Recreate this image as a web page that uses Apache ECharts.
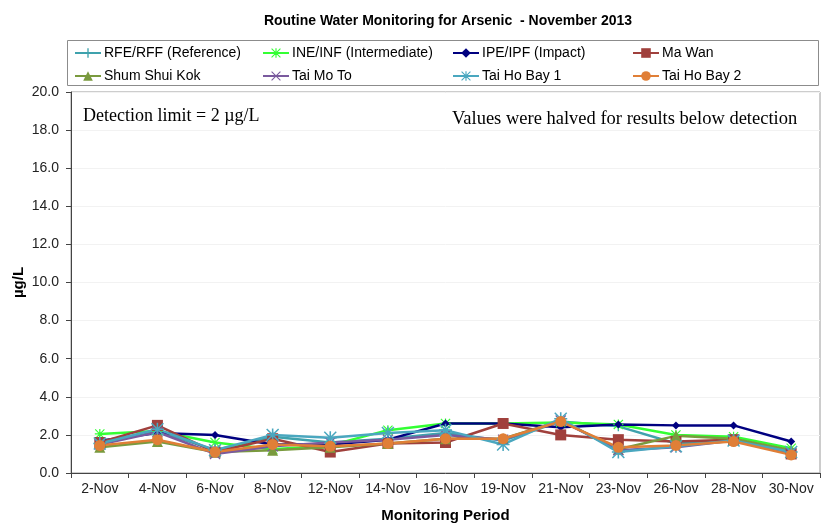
<!DOCTYPE html>
<html>
<head>
<meta charset="utf-8">
<script src="https://cdn.jsdelivr.net/npm/echarts@6/dist/echarts.min.js"></script>
<style>
  html, body { margin: 0; padding: 0; background: #fff; }
  #chart { width: 823px; height: 527px; }
</style>
</head>
<body>
<div id="chart"></div>
<script>
// Sampling dates
const categories = ['2-Nov', '4-Nov', '6-Nov', '8-Nov', '12-Nov', '14-Nov', '16-Nov',
                    '19-Nov', '21-Nov', '23-Nov', '26-Nov', '28-Nov', '30-Nov'];

// Arsenic concentration (µg/L) per station
const rfeRff      = [1.6, 2.2, 1.2, 1.9, 1.6, 1.8, 2.1, 1.7, 2.7, 2.45, 1.55, 1.7, 1.1];
const ineInf      = [2.05, 2.2, 1.6, 1.25, 1.45, 2.25, 2.6, 2.6, 2.65, 2.55, 2.0, 1.9, 1.3];
const ipeIpf      = [1.7, 2.1, 2.0, 1.5, 1.5, 1.75, 2.6, 2.6, 2.4, 2.55, 2.5, 2.5, 1.65];
const maWan       = [1.6, 2.5, 1.1, 1.8, 1.1, 1.55, 1.6, 2.6, 2.0, 1.75, 1.65, 1.75, 1.0];
const shumShuiKok = [1.35, 1.65, 1.1, 1.2, 1.35, 1.55, 1.8, 1.8, 2.75, 1.25, 1.95, 1.8, 1.2];
const taiMoTo     = [1.5, 2.15, 1.0, 1.4, 1.6, 1.75, 2.0, 1.75, 2.75, 1.2, 1.35, 1.7, 1.05];
const taiHoBay1   = [1.55, 2.3, 1.2, 2.0, 1.85, 2.1, 2.25, 1.5, 2.85, 1.1, 1.4, 1.7, 1.1];
const taiHoBay2   = [1.45, 1.75, 1.1, 1.5, 1.4, 1.55, 1.8, 1.8, 2.7, 1.35, 1.45, 1.65, 0.95];

const yTicks = { min: 0, max: 20, interval: 2 };

// Custom marker shapes
const PLUS = 'path://M4.3,0H5.7V4.3H10V5.7H5.7V10H4.3V5.7H0V4.3H4.3Z';
const STAR = 'path://M4.4,0H5.6V4.4H10V5.6H5.6V10H4.4V5.6H0V4.4H4.4Z' +
             'M0.8,0L5,4.2L9.2,0L10,0.8L5.8,5L10,9.2L9.2,10L5,5.8L0.8,10L0,9.2L4.2,5L0,0.8Z';
const CROSS = 'path://M0.8,0L5,4.2L9.2,0L10,0.8L5.8,5L10,9.2L9.2,10L5,5.8L0.8,10L0,9.2L4.2,5L0,0.8Z';

const stations = [
  { name: 'RFE/RFF (Reference)',    data: rfeRff,      color: '#3fa2ad', symbol: PLUS,       size: 10 },
  { name: 'INE/INF (Intermediate)', data: ineInf,      color: '#33ff33', symbol: STAR,       size: 10 },
  { name: 'IPE/IPF (Impact)',       data: ipeIpf,      color: '#000080', symbol: 'diamond',  size: 8 },
  { name: 'Ma Wan',                 data: maWan,       color: '#a0403c', symbol: 'rect',     size: 11 },
  { name: 'Shum Shui Kok',          data: shumShuiKok, color: '#7a9a3e', symbol: 'triangle', size: 11 },
  { name: 'Tai Mo To',              data: taiMoTo,     color: '#7a5a9e', symbol: CROSS,      size: 11 },
  { name: 'Tai Ho Bay 1',           data: taiHoBay1,   color: '#4aa7bf', symbol: STAR,       size: 13 },
  { name: 'Tai Ho Bay 2',           data: taiHoBay2,   color: '#e07f37', symbol: 'circle',   size: 11 }
];

const series = stations.map(s => ({
  name: s.name,
  type: 'line',
  data: s.data,
  symbol: s.symbol,
  symbolSize: s.size,
  showAllSymbol: true,
  lineStyle: { color: s.color, width: 2.5 },
  itemStyle: { color: s.color, borderColor: s.color, borderWidth: 0 },
  emphasis: { disabled: true },
  animation: false
}));

// Four legend columns, two entries each
const legendCols = [69, 257, 447, 627];
const legendTextStyle = { fontFamily: 'Liberation Sans, Arial, sans-serif', fontSize: 14, color: '#000', padding: [0, 0, 0, -2] };
const legends = legendCols.map((x, i) => ({
  left: x,
  top: 41,
  orient: 'vertical',
  itemGap: 9,
  itemWidth: 26,
  itemHeight: 12,
  textStyle: legendTextStyle,
  data: [stations[i].name, stations[i + 4].name],
  selectedMode: false
}));

const chart = echarts.init(document.getElementById('chart'), null, { renderer: 'canvas' });
chart.setOption({
  backgroundColor: '#ffffff',
  animation: false,
  title: {
    text: 'Routine Water Monitoring for Arsenic  - November 2013',
    left: 443,
    top: 9,
    textAlign: 'center',
    textStyle: { fontFamily: 'Liberation Sans, Arial, sans-serif', fontSize: 14, fontWeight: 'bold', color: '#000' }
  },
  legend: legends,
  graphic: [
    {
      type: 'rect',
      shape: { x: 67.5, y: 40.5, width: 751, height: 45 },
      style: { fill: 'none', stroke: '#8c8c8c', lineWidth: 1 },
      z: -1
    },
    {
      type: 'text',
      left: 83,
      top: 107,
      style: { text: 'Detection limit = 2 µg/L', font: '18px "Liberation Serif", "DejaVu Serif", serif', fill: '#000' }
    },
    {
      type: 'text',
      left: 452,
      top: 110,
      style: { text: 'Values were halved for results below detection', font: '18.5px "Liberation Serif", "DejaVu Serif", serif', fill: '#000' }
    }
  ],
  grid: {
    left: 71, right: 3, top: 92, bottom: 54,
    outerBoundsMode: 'none',
    containLabel: false,
    show: true, borderColor: '#9a9a9a', borderWidth: 1, backgroundColor: 'transparent'
  },
  xAxis: {
    type: 'category',
    data: categories,
    boundaryGap: true,
    name: 'Monitoring Period',
    nameLocation: 'middle',
    nameGap: 35,
    nameMoveOverlap: false,
    nameTextStyle: { fontFamily: 'Liberation Sans, Arial, sans-serif', fontSize: 15, fontWeight: 'bold', color: '#000' },
    axisLine: { lineStyle: { color: '#444', width: 1 } },
    axisTick: { show: true, alignWithLabel: false, length: 5, lineStyle: { color: '#444' } },
    axisLabel: { fontFamily: 'Liberation Sans, Arial, sans-serif', fontSize: 14, color: '#222', margin: 9, interval: 0 },
    splitLine: { show: false }
  },
  yAxis: {
    type: 'value',
    min: yTicks.min,
    max: yTicks.max,
    interval: yTicks.interval,
    name: 'µg/L',
    nameLocation: 'middle',
    nameGap: 45,
    nameMoveOverlap: false,
    nameRotate: 90,
    nameTextStyle: { fontFamily: 'Liberation Sans, Arial, sans-serif', fontSize: 15, fontWeight: 'bold', color: '#000' },
    axisLine: { show: true, lineStyle: { color: '#444', width: 1 } },
    axisTick: { show: true, length: 5, lineStyle: { color: '#444' } },
    axisLabel: {
      fontFamily: 'Liberation Sans, Arial, sans-serif', fontSize: 14, color: '#222', margin: 12,
      formatter: v => v.toFixed(1)
    },
    splitLine: { show: true, lineStyle: { color: '#f2f2f2', width: 1 } }
  },
  series: series
});
</script>
</body>
</html>
